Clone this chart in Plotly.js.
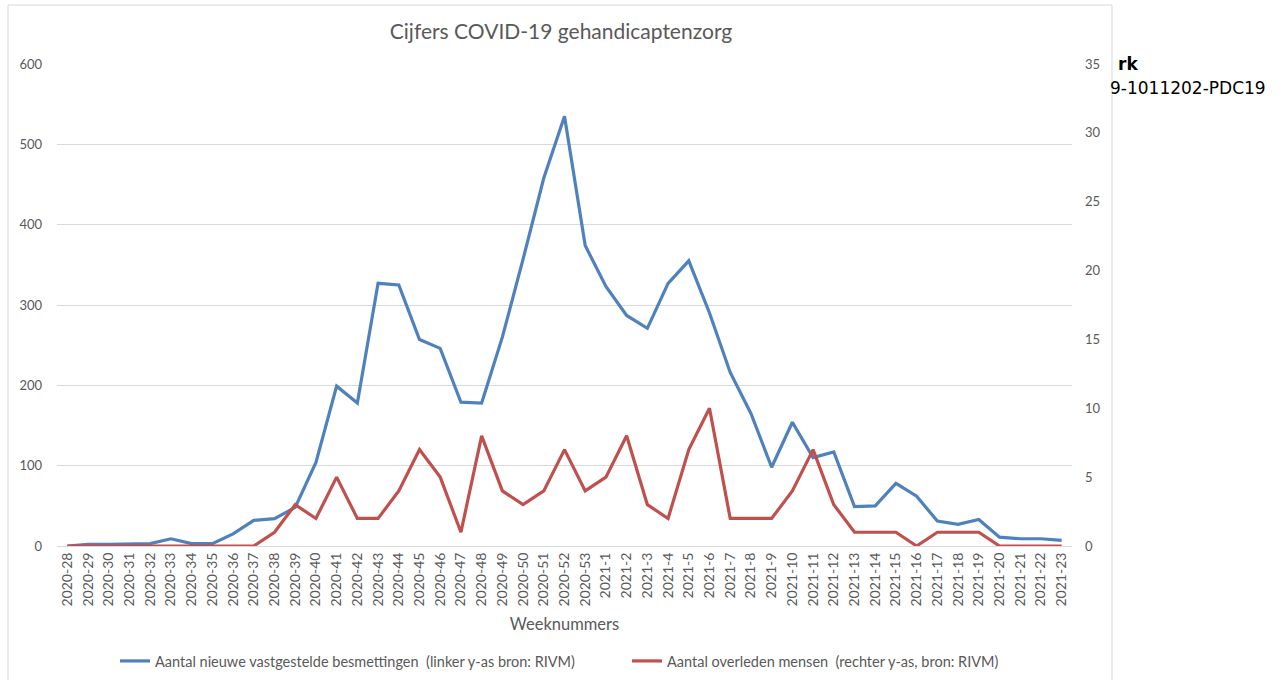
<!DOCTYPE html>
<html>
<head>
<meta charset="utf-8">
<script src="https://cdn.plot.ly/plotly-3.0.1.min.js"></script>
<style>
  html, body { margin: 0; padding: 0; background: #ffffff; }
  #plot { width: 1285px; height: 680px; }
</style>
</head>
<body>
<div id="plot"></div>
<script>
// Week numbers (x categories)
let weeks = [
  "2020-28", "2020-29", "2020-30", "2020-31", "2020-32", "2020-33", "2020-34",
  "2020-35", "2020-36", "2020-37", "2020-38", "2020-39", "2020-40", "2020-41",
  "2020-42", "2020-43", "2020-44", "2020-45", "2020-46", "2020-47", "2020-48",
  "2020-49", "2020-50", "2020-51", "2020-52", "2020-53",
  "2021-1", "2021-2", "2021-3", "2021-4", "2021-5", "2021-6", "2021-7",
  "2021-8", "2021-9", "2021-10", "2021-11", "2021-12", "2021-13", "2021-14",
  "2021-15", "2021-16", "2021-17", "2021-18", "2021-19", "2021-20", "2021-21",
  "2021-22", "2021-23"
];

// New confirmed infections (left axis)
let infections = [
  0, 2, 2, 3, 3, 9, 3, 3, 15, 32, 34, 48, 104, 199, 178, 327, 325,
  257, 246, 179, 178, 260, 357, 458, 535, 374,
  323, 287, 271, 327, 355, 290, 216, 165, 98, 154, 110, 117, 49, 50,
  78, 62, 31, 27, 33, 11, 9, 9, 7
];

// Deaths (right axis)
let deaths = [
  0, 0, 0, 0, 0, 0, 0, 0, 0, 0, 1, 3, 2, 5, 2, 2, 4,
  7, 5, 1, 8, 4, 3, 4, 7, 4,
  5, 8, 3, 2, 7, 10, 2, 2, 2, 4, 7, 3, 1, 1,
  1, 0, 1, 1, 1, 0, 0, 0, 0
];

let textColor = "#595959";
let chartFont = "Lato, 'Open Sans', sans-serif";

// Trace 1: infections on left axis
let trace1 = {
  x: weeks,
  y: infections,
  name: "Aantal nieuwe vastgestelde besmettingen  (linker y-as bron: RIVM)",
  type: "scatter",
  mode: "lines",
  line: { color: "#4F81BD", width: 3.2 },
  yaxis: "y",
  legend: "legend"
};

// Trace 2: deaths on right axis
let trace2 = {
  x: weeks,
  y: deaths,
  name: "Aantal overleden mensen  (rechter y-as, bron: RIVM)",
  type: "scatter",
  mode: "lines",
  line: { color: "#C0504D", width: 3.2 },
  yaxis: "y2",
  legend: "legend2"
};

let data = [trace1, trace2];

// Plot area spans x 57..1072, y 64..546 (pixels)
let plotW = 1015;
let plotH = 482;

// Legends are placed in container coordinates so they do not push the margins
let legendStyle = {
  xref: "container",
  yref: "container",
  y: 1 - 661 / 680,
  yanchor: "middle",
  xanchor: "left",
  orientation: "h",
  font: { family: chartFont, size: 14.5, color: textColor },
  itemwidth: 30,
  bgcolor: "rgba(0,0,0,0)"
};

let layout = {
  width: 1285,
  height: 680,
  margin: { l: 57, r: 213, t: 64, b: 134, pad: 0 },
  paper_bgcolor: "#ffffff",
  plot_bgcolor: "#ffffff",
  font: { family: chartFont, color: textColor, size: 12 },
  title: {
    text: "Cijfers COVID-19 gehandicaptenzorg",
    font: { family: chartFont, size: 21, color: textColor },
    x: 561 / 1285,
    xanchor: "center",
    y: 1 - 32 / 680,
    yanchor: "middle"
  },
  xaxis: {
    type: "category",
    range: [-0.5, weeks.length - 0.5],
    tickangle: -90,
    tickfont: { size: 14, color: textColor },
    showgrid: false,
    showline: true,
    linecolor: "#d9d9d9",
    linewidth: 1,
    ticks: "",
    zeroline: false,
    automargin: false,
    title: {
      text: "Weeknummers",
      font: { size: 16.5, color: textColor },
      standoff: 12
    }
  },
  yaxis: {
    range: [0, 600],
    tickvals: [0, 100, 200, 300, 400, 500, 600],
    showgrid: true,
    gridcolor: "#d9d9d9",
    gridwidth: 1,
    zeroline: false,
    showline: false,
    ticks: "",
    automargin: false,
    ticklabelstandoff: 14,
    tickfont: { size: 13, color: textColor }
  },
  yaxis2: {
    overlaying: "y",
    side: "right",
    range: [0, 35],
    tickvals: [0, 5, 10, 15, 20, 25, 30, 35],
    showgrid: false,
    zeroline: false,
    showline: false,
    ticks: "",
    automargin: false,
    ticklabelstandoff: 12,
    tickfont: { size: 13, color: textColor }
  },
  showlegend: true,
  legend: Object.assign({}, legendStyle, { x: 115 / 1285 }),
  legend2: Object.assign({}, legendStyle, { x: 627 / 1285 }),
  shapes: [
    // Chart border box
    {
      type: "rect",
      xref: "paper",
      yref: "paper",
      x0: (8 - 57) / plotW,
      x1: (1112 - 57) / plotW,
      y0: (546 - 720) / plotH,
      y1: (546 - 5) / plotH,
      line: { color: "#d9d9d9", width: 1 },
      layer: "below"
    }
  ],
  annotations: [
    // Text of the surrounding document, cut off by the chart box
    {
      xref: "paper",
      yref: "paper",
      x: (1116 - 57) / plotW,
      y: (546 - 64) / plotH,
      xanchor: "left",
      yanchor: "middle",
      text: "<b>rk</b>",
      showarrow: false,
      font: { family: "DejaVu Sans, Verdana, sans-serif", size: 17, color: "#000000" }
    },
    {
      xref: "paper",
      yref: "paper",
      x: (1108 - 57) / plotW,
      y: (546 - 88) / plotH,
      xanchor: "left",
      yanchor: "middle",
      text: "9-1011202-PDC19",
      showarrow: false,
      font: { family: "DejaVu Sans, Verdana, sans-serif", size: 17, color: "#000000" }
    }
  ]
};

Plotly.newPlot("plot", data, layout, { displayModeBar: false, staticPlot: true });
</script>
</body>
</html>
